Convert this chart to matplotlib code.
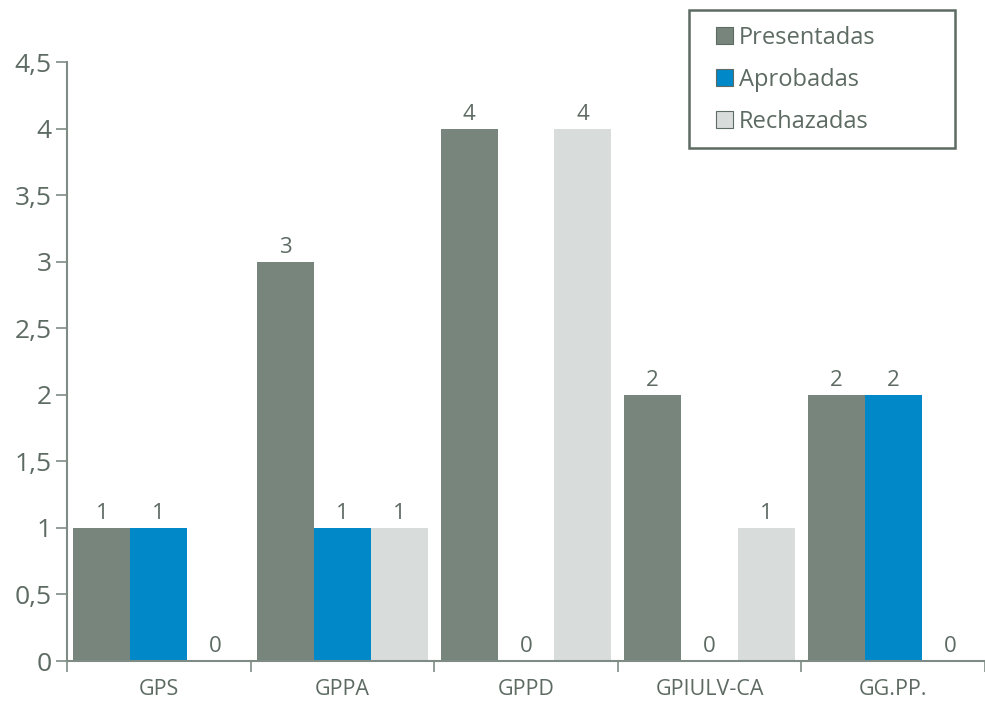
import numpy as np
import matplotlib
matplotlib.use("Agg")
from matplotlib import pyplot as plt
from matplotlib.patches import Patch, Rectangle

# datos
grupos = ['GPS', 'GPPA', 'GPPD', 'GPIULV-CA', 'GG.PP.']
presentadas = [1, 3, 4, 2, 2]
aprobadas = [1, 1, 0, 0, 2]
rechazadas = [0, 1, 4, 1, 0]
series = ['Presentadas', 'Aprobadas', 'Rechazadas']
colores = ['#78857d', '#0088c8', '#d8dcdb']

plt.rcParams['font.family'] = ['Open Sans', 'DejaVu Sans']
txt = '#5d6b63'
eje = '#7f8c85'

W, H = 985, 705
fig = plt.figure(figsize=(W / 100, H / 100), dpi=100)
ax = fig.add_axes([0.068, 0.0624, 0.932, 0.8496])

x = np.arange(len(grupos))
w = 0.31
datos = [presentadas, aprobadas, rechazadas]
for i, (vals, c) in enumerate(zip(datos, colores)):
    pos = x + (i - 1) * w
    ax.bar(pos, vals, width=w, color=c, zorder=2)
    for p, v in zip(pos, vals):
        ax.text(p, v + 0.03, str(v), ha='center', va='bottom', fontsize=16, color=txt)

ax.set_xlim(-0.5, len(grupos) - 0.5)
ax.set_ylim(0, 4.5)
yt = np.arange(0, 4.51, 0.5)
ax.set_yticks(yt)
ax.set_yticklabels([('%g' % t).replace('.', ',') for t in yt], fontsize=19, color=txt)
ax.set_xticks(x)
ax.set_xticklabels(grupos, fontsize=15.5, color=txt)
ax.tick_params(axis='x', which='major', length=0, pad=13)
ax.set_xticks(np.arange(-0.5, len(grupos), 1), minor=True)
ax.tick_params(axis='x', which='minor', length=8, color=eje, width=1.2)
ax.tick_params(axis='y', length=8, color=eje, width=1.2, pad=3)

for s in ['top', 'right']:
    ax.spines[s].set_visible(False)
for s in ['left', 'bottom']:
    ax.spines[s].set_color(eje)
    ax.spines[s].set_linewidth(1.5)

# caja de la leyenda
fig.patches.append(Rectangle((689 / W, 1 - 148 / H), 266 / W, 138 / H,
                             transform=fig.transFigure, facecolor='white',
                             edgecolor='#5d6b63', linewidth=1.8))
handles = [Patch(facecolor=c, edgecolor='#5d6b63', linewidth=0.8) for c in colores]
leg = fig.legend(handles, series, loc='upper left', bbox_to_anchor=(716 / W, 1 - 26 / H),
                 fontsize=17, frameon=False, handlelength=0.72, handleheight=0.72,
                 handletextpad=0.25, borderpad=0, labelspacing=0.76, borderaxespad=0)
for t in leg.get_texts():
    t.set_color(txt)

plt.savefig('out.png', dpi=100)
